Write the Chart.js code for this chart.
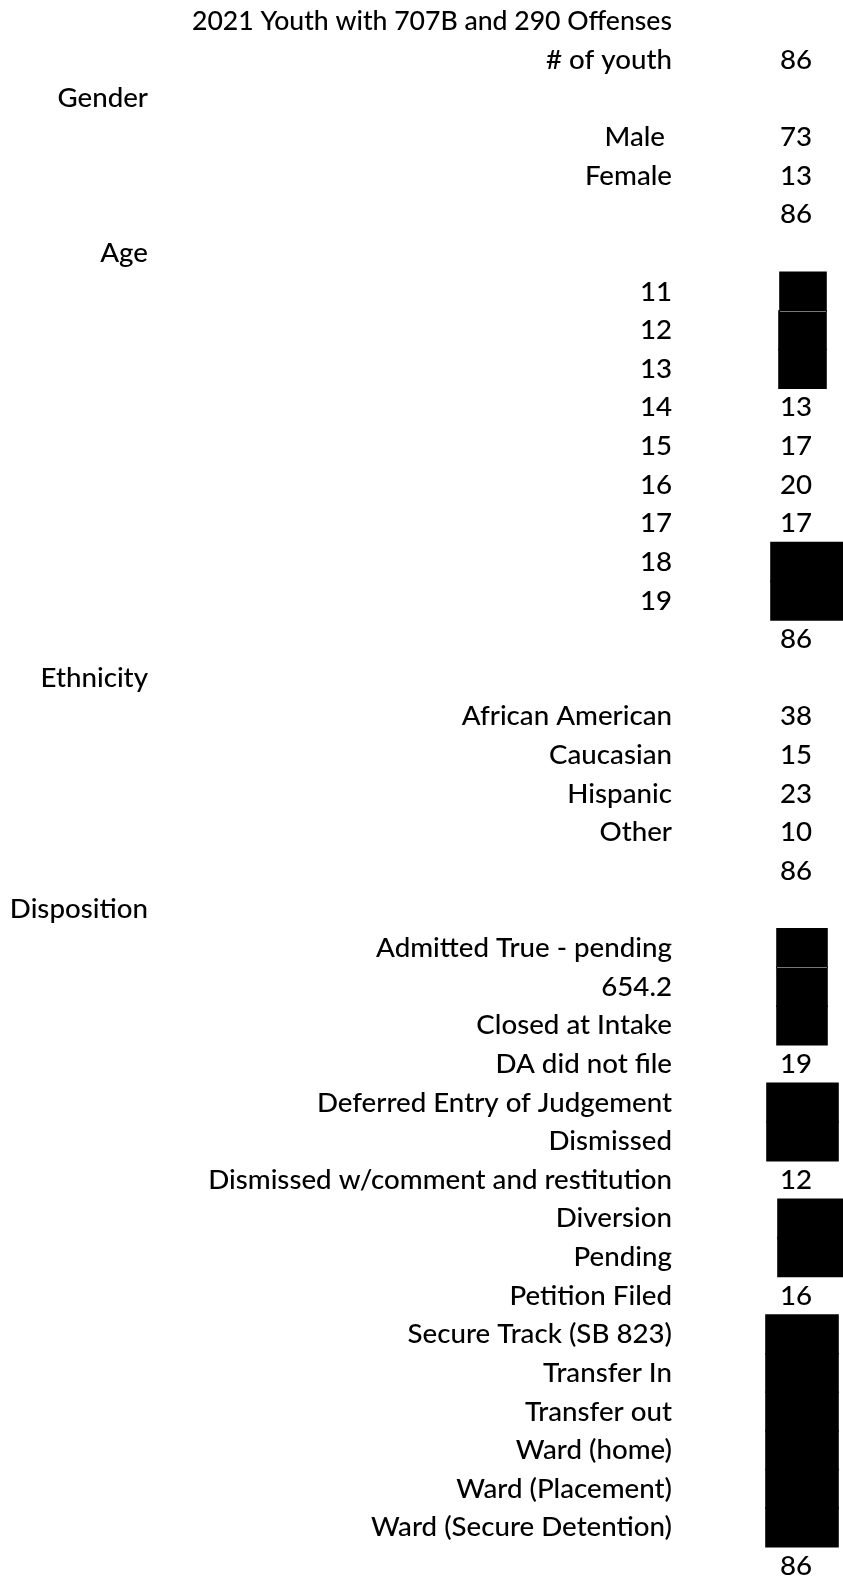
<!DOCTYPE html>
<html>
<head>
<meta charset="utf-8">
<script src="https://cdn.jsdelivr.net/npm/chart.js@4"></script>
<style>
  html, body { margin: 0; padding: 0; background: #fff; }
  canvas { display: block; }
</style>
</head>
<body>
<canvas id="c" width="843" height="1582"></canvas>
<script>
// ---- data ----
const rowLabels = [
  "2021 Youth with 707B and 290 Offenses", "# of youth",
  "", "Male ", "Female", "",
  "", "11", "12", "13", "14", "15", "16", "17", "18", "19", "",
  "", "African American", "Caucasian", "Hispanic", "Other", "",
  "", "Admitted True - pending", "654.2", "Closed at Intake", "DA did not file",
  "Deferred Entry of Judgement", "Dismissed", "Dismissed w/comment and restitution",
  "Diversion", "Pending", "Petition Filed", "Secure Track (SB 823)", "Transfer In",
  "Transfer out", "Ward (home)", "Ward (Placement)", "Ward (Secure Detention)", ""
];
const sectionRows = [2, 6, 17, 23];
const sectionNames = ["Gender", "Age", "Ethnicity", "Disposition"];
const counts = [
  null, 86,
  null, 73, 13, 86,
  null, null, null, null, 13, 17, 20, 17, null, null, 86,
  null, 38, 15, 23, 10, 86,
  null, null, null, null, 19,
  null, null, 12,
  null, null, 16, null, null,
  null, null, null, null, 86
];
// redacted cells: [first row, last row, column start, column end] (value-column units)
const redactedGroups = [
  [7, 7, 100, 146],
  [8, 9, 99, 146],
  [14, 15, 91, 163],
  [24, 24, 97, 147],
  [25, 26, 97, 147],
  [28, 29, 87, 158],
  [31, 32, 98, 163],
  [34, 39, 86, 158]
];
const valueColumnStart = 100;

// build bar data from groups
const redactData = rowLabels.map(() => null);
const groupStartRows = [];
redactedGroups.forEach(g => {
  groupStartRows.push(g[0]);
  for (let r = g[0]; r <= g[1]; r++) redactData[r] = [g[2], g[3]];
});

const FONT = "Lato";
const FWEIGHT = 500;
const FSIZE = 27.7;
const TITLE_SIZE = 26.6;

const textPlugin = {
  id: 'tableText',
  afterDatasetsDraw(chart) {
    const ctx = chart.ctx;
    const y = chart.scales.y, x = chart.scales.x;
    ctx.save();
    ctx.font = FWEIGHT + " " + FSIZE + "px " + FONT;
    ctx.fillStyle = "#000";
    ctx.textBaseline = "middle";
    ctx.textAlign = "right";
    sectionRows.forEach((r, i) => {
      ctx.fillText(sectionNames[i], 148, y.getPixelForValue(r));
    });
    ctx.textAlign = "left";
    counts.forEach((v, r) => {
      if (v === null) return;
      ctx.fillText(String(v), x.getPixelForValue(valueColumnStart), y.getPixelForValue(r));
    });
    ctx.restore();
  }
};

const seamPlugin = {
  id: 'seams',
  afterDatasetsDraw(chart) {
    // thin light line where one redaction box sits directly on another
    const ctx = chart.ctx, y = chart.scales.y, x = chart.scales.x;
    ctx.save();
    ctx.strokeStyle = 'rgba(200,200,200,0.6)';
    ctx.lineWidth = 1;
    groupStartRows.forEach(r => {
      if (!redactData[r - 1]) return;
      const yy = Math.round((y.getPixelForValue(r) + y.getPixelForValue(r - 1)) / 2) + 0.5;
      const a = Math.max(redactData[r][0], redactData[r - 1][0]);
      const b = Math.min(redactData[r][1], redactData[r - 1][1]);
      ctx.beginPath();
      ctx.moveTo(x.getPixelForValue(a), yy);
      ctx.lineTo(x.getPixelForValue(b), yy);
      ctx.stroke();
    });
    ctx.restore();
  }
};

new Chart(document.getElementById('c'), {
  type: 'bar',
  data: {
    labels: rowLabels,
    datasets: [{
      data: redactData,
      backgroundColor: '#000',
      borderWidth: 0,
      inflateAmount: 0.8,
      barPercentage: 1,
      categoryPercentage: 1,
      clip: false
    }]
  },
  options: {
    indexAxis: 'y',
    responsive: false,
    animation: false,
    devicePixelRatio: 1,
    layout: { padding: { top: 21.3, bottom: 15.9, left: 0, right: 0 } },
    plugins: { legend: { display: false }, tooltip: { enabled: false }, title: { display: false } },
    scales: {
      x: { display: false, min: 0, max: 163 },
      y: {
        offset: false,
        grid: { display: false, drawTicks: false, offset: false },
        border: { display: false },
        ticks: {
          autoSkip: false,
          padding: 8,
          color: '#000',
          font: (c) => ({ family: FONT, weight: FWEIGHT, size: c.index === 0 ? TITLE_SIZE : FSIZE })
        },
        afterFit(scale) {
          scale.width = 680;
          scale.paddingTop = 0;
          scale.paddingBottom = 0;
        }
      }
    }
  },
  plugins: [textPlugin, seamPlugin]
});
</script>
</body>
</html>
